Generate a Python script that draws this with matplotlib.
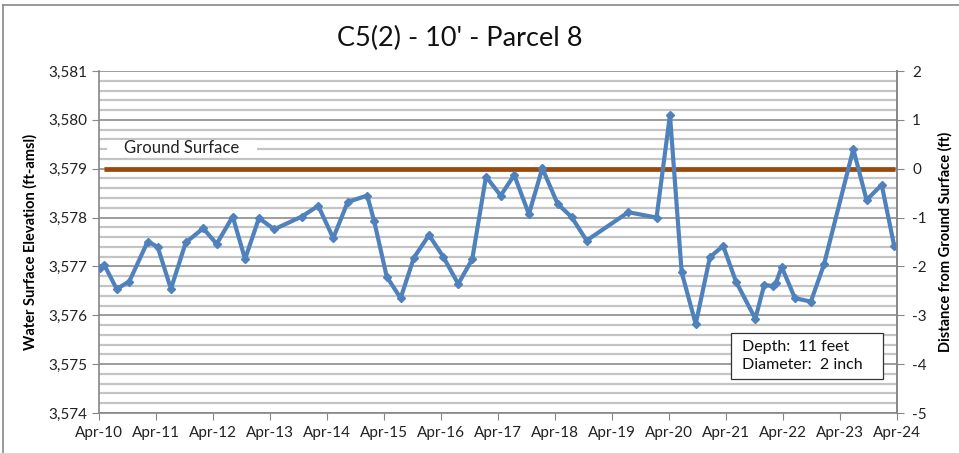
import matplotlib
matplotlib.use("Agg")
import matplotlib.pyplot as plt
import matplotlib.dates as mdates
from matplotlib.ticker import FuncFormatter, MultipleLocator
from matplotlib.lines import Line2D
from matplotlib.patches import Rectangle
import pandas as pd

plt.rcParams['font.family'] = ['Lato', 'DejaVu Sans']
plt.rcParams['axes.unicode_minus'] = False

# Water level readings (ft-amsl)
dates = [
    "2010-04-07", "2010-05-05", "2010-07-23", "2010-10-12", "2011-02-07",
    "2011-04-12", "2011-07-06", "2011-10-09", "2012-01-29", "2012-04-24",
    "2012-08-05", "2012-10-23", "2013-01-20", "2013-04-28", "2013-10-21",
    "2014-02-04", "2014-05-11", "2014-08-12", "2014-12-15", "2015-01-29",
    "2015-04-19", "2015-07-17", "2015-10-10", "2016-01-15", "2016-04-15",
    "2016-07-20", "2016-10-18", "2017-01-14", "2017-04-18", "2017-07-14",
    "2017-10-16", "2018-01-10", "2018-04-18", "2018-07-17", "2018-10-21",
    "2019-07-15", "2020-01-12", "2020-04-07", "2020-06-21", "2020-09-19",
    "2020-12-19", "2021-03-14", "2021-06-04", "2021-10-06", "2021-12-02",
    "2022-01-25", "2022-02-15", "2022-03-24", "2022-06-17", "2022-09-27",
    "2022-12-20", "2023-06-26", "2023-09-19", "2023-12-25", "2024-03-14",
]
elevation = [
    3576.96, 3577.03, 3576.54, 3576.69, 3577.51,
    3577.40, 3576.54, 3577.49, 3577.78, 3577.46,
    3578.02, 3577.15, 3577.99, 3577.76, 3578.02,
    3578.24, 3577.58, 3578.32, 3578.45, 3577.92,
    3576.79, 3576.35, 3577.18, 3577.64, 3577.20,
    3576.64, 3577.15, 3578.84, 3578.45, 3578.87,
    3578.07, 3579.01, 3578.28, 3578.01, 3577.53,
    3578.11, 3578.00, 3580.10, 3576.88, 3575.82,
    3577.19, 3577.42, 3576.69, 3575.93, 3576.62,
    3576.60, 3576.66, 3576.99, 3576.35, 3576.28,
    3577.04, 3579.40, 3578.36, 3578.67, 3577.42,
]

ground_elev = 3579.0
ground_dates = ["2010-05-01", "2024-03-20"]

x_start, x_end = "2010-04-01", "2024-04-01"
y_min, y_max = 3574, 3581

blue = "#4F81BD"
brown = "#9C4A0C"
grid_major = "#8C8C8C"
grid_minor = "#C4C4C4"
spine_col = "#868686"

dt = pd.to_datetime(dates)
gd = pd.to_datetime(ground_dates)

fig = plt.figure(figsize=(9.59, 4.53), dpi=100)
ax = fig.add_axes([99 / 959, 1 - 413 / 453, 798 / 959, 342 / 453])

ax.set_ylim(y_min, y_max)
ax.set_xlim(pd.Timestamp(x_start), pd.Timestamp(x_end))
ax.yaxis.set_major_locator(MultipleLocator(1))
ax.yaxis.set_minor_locator(MultipleLocator(0.2))
ax.yaxis.set_major_formatter(FuncFormatter(lambda v, p: f"{v:,.0f}"))
ax.grid(which='major', axis='y', color=grid_major, lw=1.2)
ax.grid(which='minor', axis='y', color=grid_minor, lw=1.6)
ax.set_axisbelow(True)

ax.xaxis.set_major_locator(mdates.MonthLocator(bymonth=4))
ax.xaxis.set_major_formatter(mdates.DateFormatter('%b-%y'))

ax.spines['top'].set_visible(False)
for side in ['left', 'bottom', 'right']:
    ax.spines[side].set_color(spine_col)
    ax.spines[side].set_linewidth(1.2)

ax.tick_params(axis='both', which='major', direction='out', length=5,
               color=spine_col, labelsize=11, labelcolor='#222222')
ax.tick_params(axis='y', which='minor', length=0)
ax.tick_params(axis='x', pad=4)

# ground surface
ax.plot(gd, [ground_elev, ground_elev], color='#B0B0B0', lw=3.4, alpha=0.5,
        zorder=2, solid_capstyle='butt')
ax.plot(gd, [ground_elev, ground_elev], color=brown, lw=3.4, zorder=3,
        solid_capstyle='butt')

ax.plot(dt, elevation, color=blue, lw=3.0, marker='D', ms=4.5,
        markeredgecolor=blue, zorder=4)

# "Ground Surface" label on a white patch
ax.add_patch(Rectangle((0.010, 0.749), 0.188, 0.050, transform=ax.transAxes,
                       fc='white', ec='none', zorder=1.5))
ax.text(0.104, 0.775, "Ground Surface", transform=ax.transAxes, fontsize=12,
        ha='center', va='center', color='#222222', zorder=5)

# well info box
ax.add_patch(Rectangle((0.792, 0.0994), 0.190, 0.1346, transform=ax.transAxes,
                       fc='white', ec='#333333', lw=0.9, zorder=5))
ax.text(0.806, 0.1667, "Depth:  11 feet\nDiameter:  2 inch",
        transform=ax.transAxes, fontsize=11.5, ha='left', va='center',
        linespacing=1.4, color='#111111', zorder=6)

ax.set_ylabel("Water Surface Elevation (ft-amsl)", fontsize=10.5,
              fontweight='bold', labelpad=8)

ax2 = ax.twinx()
ax2.set_ylim(y_min - ground_elev, y_max - ground_elev)
ax2.yaxis.set_major_locator(MultipleLocator(1))
for side in ['top', 'left', 'bottom']:
    ax2.spines[side].set_visible(False)
ax2.spines['right'].set_color(spine_col)
ax2.spines['right'].set_linewidth(1.2)
ax2.tick_params(axis='y', direction='out', length=5, color=spine_col,
                labelsize=11, labelcolor='#222222', pad=6)
ax2.set_ylabel("Distance from Ground Surface (ft)", fontsize=10.5,
               fontweight='bold', labelpad=8)

fig.text(0.479, 0.916, "C5(2) - 10' - Parcel 8", fontsize=19.5, ha='center',
         va='center', color='#111111')

# outer chart border
fig.add_artist(Line2D([3 / 959, 1], [1 - 5 / 453, 1 - 5 / 453],
                      transform=fig.transFigure, color='#888888', lw=1.2))
fig.add_artist(Line2D([3 / 959, 3 / 959], [0, 1 - 5 / 453],
                      transform=fig.transFigure, color='#888888', lw=1.2))

fig.savefig("out.png", dpi=100)
